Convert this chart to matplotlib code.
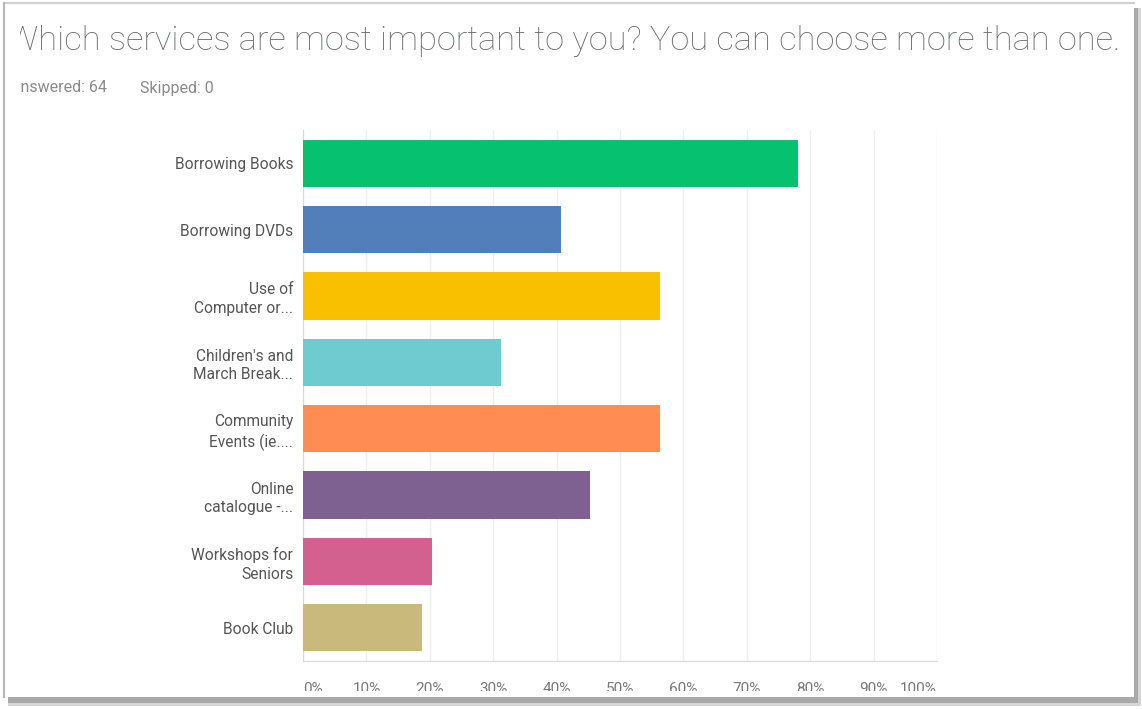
import matplotlib
matplotlib.use("Agg")
import matplotlib.pyplot as plt
from matplotlib.patches import Rectangle

categories = ["Borrowing Books", "Borrowing DVDs", "Use of\nComputer or...",
              "Children's and\nMarch Break...", "Community\nEvents (ie....",
              "Online\ncatalogue -...", "Workshops for\nSeniors", "Book Club"]
values = [78.13, 40.63, 56.25, 31.25, 56.25, 45.31, 20.31, 18.75]
colors = ["#06c270", "#527fba", "#f9c000", "#6ecbcf", "#ff8c52",
          "#7f6191", "#d4608f", "#c9b97b"]
tick_vals = [0, 10, 20, 30, 40, 50, 60, 70, 80, 90, 100]
tick_labels = ["0%", "10%", "20%", "30%", "40%", "50%", "60%", "70%", "80%", "90%", "100%"]
title = "Which services are most important to you? You can choose more than one."
answered = "Answered: 64"
skipped = "Skipped: 0"

W, H = 1142, 709
fig = plt.figure(figsize=(W / 100, H / 100), dpi=100)
fig.patch.set_facecolor("white")

def fx(px):
    return px / W

def fy(py):
    return 1 - py / H

FONT = "Roboto"

# Header axes (clips the cut-off text at the left)
hax = fig.add_axes([fx(20), fy(110), fx(1125 - 20), (110 - 8) / H])
hax.set_axis_off()
hax.set_xlim(20, 1125)
hax.set_ylim(110, 8)
hax.text(7, 41, title, fontsize=24.8, color="#6a6b6e", va="center", ha="left",
         family=FONT, fontweight="light", clip_on=True)
hax.text(10, 88, answered, fontsize=11.5, color="#8a8a8a", va="center", ha="left",
         family=FONT, clip_on=True)
hax.text(140, 88, skipped, fontsize=11.5, color="#8a8a8a", va="center", ha="left",
         family=FONT, clip_on=True)

# Main bar axes
ax = fig.add_axes([fx(303), fy(661), fx(937 - 303), (661 - 130) / H])
y = list(range(len(categories)))
ax.barh(y, values, height=0.71, color=colors, zorder=3)
ax.set_xlim(0, 100)
ax.set_ylim(len(categories) - 0.5, -0.5)
ax.set_yticks(y)
ax.set_yticklabels(categories, fontsize=11.2, color="#555555", family=FONT,
                   linespacing=1.3)
ax.tick_params(axis="y", length=0, pad=7)
ax.set_xticks(tick_vals)
ax.set_xticklabels(tick_labels, fontsize=11, color="#777777", family=FONT)
ax.tick_params(axis="x", length=0, pad=15)
xt = ax.get_xticklabels()
xt[0].set_ha("left")
xt[-1].set_ha("right")
ax.grid(axis="x", color="#efefef", linewidth=1, zorder=0)
for s in ["top", "right"]:
    ax.spines[s].set_visible(False)
ax.spines["left"].set_color("#d8d8d8")
ax.spines["bottom"].set_color("#d8d8d8")

# Frame with shadow (drawn on top to clip tick labels at the bottom)
oax = fig.add_axes([0, 0, 1, 1], zorder=10)
oax.set_axis_off()
oax.set_xlim(0, W)
oax.set_ylim(H, 0)
oax.patch.set_alpha(0)
oax.add_patch(Rectangle((0, 691), W, H - 691, facecolor="white", edgecolor="none"))
oax.add_patch(Rectangle((8, 697), 1130, 6, facecolor="#a9a9a9", edgecolor="none"))
oax.add_patch(Rectangle((8, 703), 1130, 3, facecolor="#d6d6d6", edgecolor="none"))
oax.add_patch(Rectangle((1134, 8), 4, 695, facecolor="#a9a9a9", edgecolor="none"))
oax.add_patch(Rectangle((1138, 8), 3, 698, facecolor="#d6d6d6", edgecolor="none"))
oax.plot([4, 4, 1134], [697, 3, 3], color="#d0d0d0", linewidth=1.5)
oax.plot([4, 4], [3, 697], color="#b8b8b8", linewidth=1.5)

fig.savefig("out.png", dpi=100)
